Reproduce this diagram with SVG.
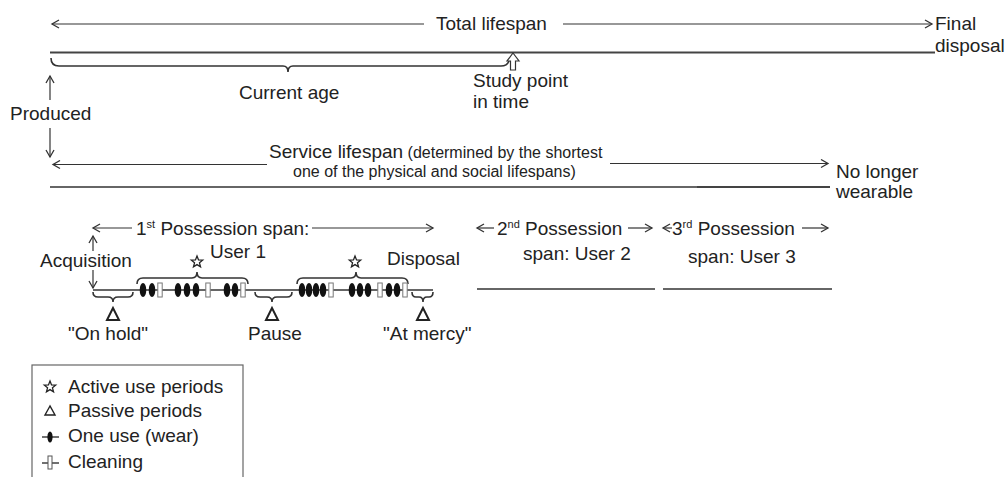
<svg xmlns="http://www.w3.org/2000/svg" width="1006" height="477" viewBox="0 0 1006 477">
<style>
text{font-family:"Liberation Sans",Arial,sans-serif;font-size:19px;fill:#222}
.sm{font-size:16px}
.sup{font-size:11px}
.ln{stroke:#333;stroke-width:1.2;fill:none}
.thk{stroke:#444;stroke-width:2.2;fill:none}
.tl{stroke:#333;stroke-width:1.6;fill:none}
.br{stroke:#333;stroke-width:1.6;fill:none}
.tri{stroke:#222;stroke-width:2;fill:#fff}
.use{fill:#111}
.cln{fill:#fff;stroke:#777;stroke-width:1}
.star{fill:#fff;stroke:#222;stroke-width:1.3}
</style>
<defs>
<marker id="ah" viewBox="0 0 10 10" refX="8" refY="5" markerWidth="10" markerHeight="10" markerUnits="userSpaceOnUse" orient="auto-start-reverse">
<path d="M1,1 L8,5 L1,9" fill="none" stroke="#333" stroke-width="1.3"/>
</marker>
<path id="star" d="M0,-6 L1.53,-2.1 L5.71,-1.85 L2.47,0.8 L3.53,4.85 L0,2.6 L-3.53,4.85 L-2.47,0.8 L-5.71,-1.85 L-1.53,-2.1 Z"/>
<ellipse id="wear" cx="0" cy="0" rx="3.3" ry="7"/>
<rect id="clean" x="-2.2" y="-7" width="4.4" height="14"/>
<path id="tri" d="M0,-6 L-6,6 L6,6 Z"/>
</defs>

<g id="connectors">
  <line class="ln" x1="424" y1="24" x2="52" y2="24" marker-end="url(#ah)"/>
  <line class="ln" x1="563" y1="24" x2="932" y2="24" marker-end="url(#ah)"/>
  <line class="thk" x1="50" y1="52.5" x2="935" y2="52.5"/>
  <path class="br" d="M51,58 Q51,66 59,66 L283,66 Q288,66 288,72 Q288,66 293,66 L501,66 Q507,66 509,61"/>
  <path d="M513,53 L519,61 L515.5,61 L515.5,70 L510.5,70 L510.5,61 L507,61 Z" fill="#fff" stroke="#333" stroke-width="1.2"/>
  <line class="ln" x1="50" y1="100" x2="50" y2="76" marker-end="url(#ah)"/>
  <line class="ln" x1="50" y1="128" x2="50" y2="157" marker-end="url(#ah)"/>
  <line class="ln" x1="267" y1="164.5" x2="53" y2="164.5" marker-end="url(#ah)"/>
  <line class="ln" x1="610" y1="163.5" x2="828" y2="163.5" marker-end="url(#ah)"/>
  <line class="tl" x1="50" y1="187" x2="830" y2="187"/>
  <line class="thk" x1="697" y1="187" x2="830" y2="187"/>
  <line class="ln" x1="132" y1="228" x2="93" y2="228" marker-end="url(#ah)"/>
  <line class="ln" x1="312" y1="228" x2="433" y2="228" marker-end="url(#ah)"/>
  <line class="ln" x1="93" y1="251" x2="93" y2="236" marker-end="url(#ah)"/>
  <line class="ln" x1="93" y1="270" x2="93" y2="288" marker-end="url(#ah)"/>
  <line class="ln" x1="494" y1="228" x2="477" y2="228" marker-end="url(#ah)"/>
  <line class="ln" x1="628" y1="228" x2="652" y2="228" marker-end="url(#ah)"/>
  <line class="ln" x1="672" y1="228" x2="663" y2="228" marker-end="url(#ah)"/>
  <line class="ln" x1="802" y1="228" x2="828" y2="228" marker-end="url(#ah)"/>
  <line class="tl" x1="93" y1="290" x2="433" y2="290"/>
  <line class="tl" x1="477" y1="289" x2="655" y2="289"/>
  <line class="tl" x1="663" y1="289" x2="832" y2="289"/>
  <path class="br" d="M137,284 Q137,278 143,278 L192,278 Q197,278 197,272 Q197,278 202,278 L242,278 Q248,278 248,284"/>
  <path class="br" d="M297,284 Q297,278 303,278 L351,278 Q356,278 356,272 Q356,278 361,278 L402,278 Q408,278 408,284"/>
  <path class="br" d="M93,292 Q93,297 98,297 L108,297 Q113,297 113,302 Q113,297 118,297 L128,297 Q133,297 133,292"/>
  <path class="br" d="M255,292 Q255,297 260,297 L267,297 Q272,297 272,302 Q272,297 277,297 L287,297 Q292,297 292,292"/>
  <path class="br" d="M412,292 Q412,297 416,297 L419,297 Q423,297 423,302 Q423,297 427,297 L429,297 Q433,297 433,292"/>
</g>

<g id="uses">
  <use href="#wear" class="use" x="143" y="290"/>
  <use href="#wear" class="use" x="152" y="290"/>
  <use href="#clean" class="cln" x="160" y="290"/>
  <use href="#wear" class="use" x="178" y="290"/>
  <use href="#wear" class="use" x="187" y="290"/>
  <use href="#wear" class="use" x="196" y="290"/>
  <use href="#clean" class="cln" x="208" y="290"/>
  <use href="#wear" class="use" x="227" y="290"/>
  <use href="#wear" class="use" x="235" y="290"/>
  <use href="#clean" class="cln" x="243" y="290"/>
  <use href="#wear" class="use" x="302" y="290"/>
  <use href="#wear" class="use" x="309" y="290"/>
  <use href="#wear" class="use" x="316" y="290"/>
  <use href="#wear" class="use" x="323" y="290"/>
  <use href="#clean" class="cln" x="331" y="290"/>
  <use href="#wear" class="use" x="352" y="290"/>
  <use href="#wear" class="use" x="360" y="290"/>
  <use href="#wear" class="use" x="368" y="290"/>
  <use href="#clean" class="cln" x="380" y="290"/>
  <use href="#wear" class="use" x="389" y="290"/>
  <use href="#wear" class="use" x="397" y="290"/>
  <use href="#clean" class="cln" x="405" y="290"/>
</g>

<g id="symbols">
  <use href="#star" class="star" x="197" y="262"/>
  <use href="#star" class="star" x="355" y="262"/>
  <use href="#tri" class="tri" x="113" y="314"/>
  <use href="#tri" class="tri" x="272" y="314"/>
  <use href="#tri" class="tri" x="423" y="314"/>
</g>

<g id="total-lifespan"><text x="436" y="30">Total lifespan</text></g>
<g id="final-disposal"><text x="935" y="30">Final</text><text x="935" y="52">disposal</text></g>
<g id="current-age"><text x="239" y="99">Current age</text></g>
<g id="study-point"><text x="473" y="87">Study point</text><text x="473" y="108">in time</text></g>
<g id="produced"><text x="10" y="120">Produced</text></g>
<g id="service-lifespan"><text x="269" y="158">Service lifespan<tspan class="sm"> (determined by the shortest</tspan></text><text class="sm" x="293" y="177">one of the physical and social lifespans)</text></g>
<g id="no-longer"><text x="836" y="178">No longer</text><text x="836" y="198">wearable</text></g>
<g id="possession-1"><text x="136" y="235">1<tspan class="sup" dy="-7">st</tspan><tspan dy="7"> Possession span:</tspan></text><text x="210" y="258">User 1</text></g>
<g id="acquisition"><text x="40" y="267">Acquisition</text></g>
<g id="disposal"><text x="387" y="265">Disposal</text></g>
<g id="possession-2"><text x="497" y="235">2<tspan class="sup" dy="-7">nd</tspan><tspan dy="7"> Possession</tspan></text><text x="523" y="260">span: User 2</text></g>
<g id="possession-3"><text x="672" y="235">3<tspan class="sup" dy="-7">rd</tspan><tspan dy="7"> Possession</tspan></text><text x="688" y="263">span: User 3</text></g>
<g id="on-hold"><text x="68" y="340">"On hold"</text></g>
<g id="pause"><text x="248" y="340">Pause</text></g>
<g id="at-mercy"><text x="383" y="340">"At mercy"</text></g>

<g id="legend">
  <rect x="32" y="365" width="211" height="125" fill="#fff" stroke="#666" stroke-width="1.2"/>
  <use href="#star" class="star" x="50" y="387"/>
  <text x="68" y="393">Active use periods</text>
  <path d="M50,406 L45,415 L55,415 Z" fill="#fff" stroke="#222" stroke-width="1.4"/>
  <text x="68" y="417">Passive periods</text>
  <line x1="42" y1="437" x2="59" y2="437" stroke="#333" stroke-width="1.4"/>
  <ellipse cx="50" cy="437" rx="2.6" ry="5.5" fill="#111"/>
  <text x="68" y="442">One use (wear)</text>
  <line x1="42" y1="463" x2="59" y2="463" stroke="#333" stroke-width="1.4"/>
  <rect x="48" y="456" width="4" height="13" fill="#fff" stroke="#555" stroke-width="1"/>
  <text x="68" y="468">Cleaning</text>
</g>
</svg>
